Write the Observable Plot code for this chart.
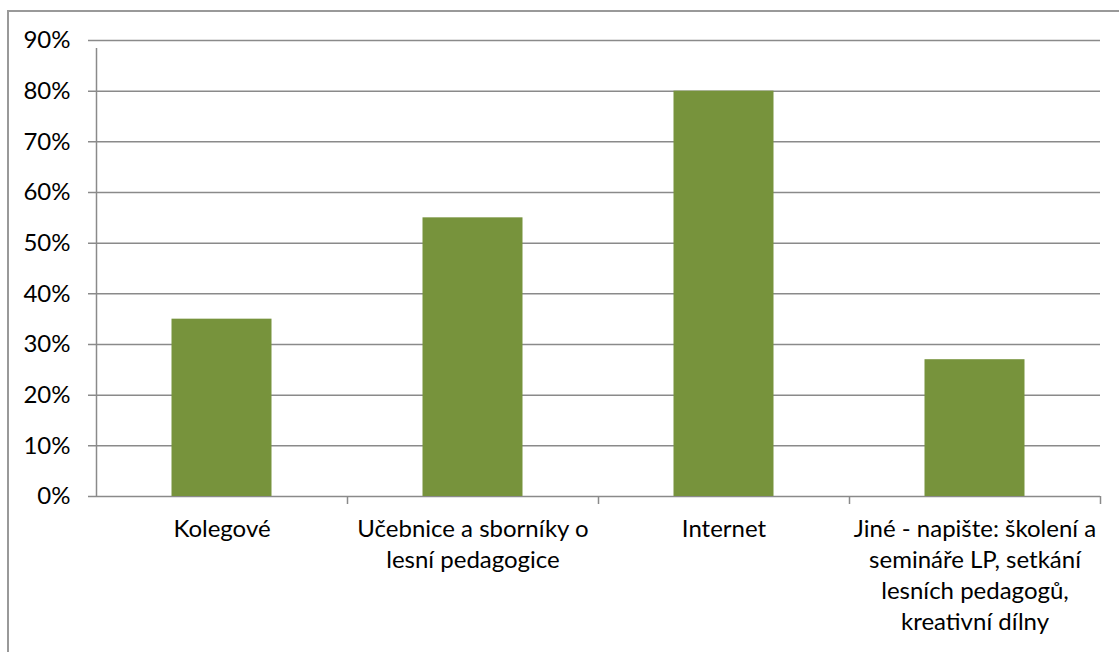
<!DOCTYPE html>
<html>
<head>
<meta charset="utf-8">
<script src="https://cdn.jsdelivr.net/npm/d3@7"></script>
<script src="https://cdn.jsdelivr.net/npm/@observablehq/plot@0.6"></script>
<style>
  html, body { margin: 0; padding: 0; background: #fff; overflow: hidden; }
  #wrap { position: relative; width: 1119px; height: 652px; overflow: hidden; background: #fff; }
  #border { position: absolute; left: 7px; top: 10px; width: 1300px; height: 1000px; border: 2px solid #999; box-sizing: border-box; pointer-events: none; }
  #chart { position: absolute; left: 0; top: 0; }
</style>
</head>
<body>
<div id="wrap"><div id="chart"></div><div id="border"></div></div>
<script>
const categories = ["Kolegové", "Učebnice a sborníky o lesní pedagogice", "Internet", "Jiné - napište: školení a semináře LP, setkání lesních pedagogů, kreativní dílny"];
const labels = ["Kolegové", "Učebnice a sborníky o\nlesní pedagogice", "Internet", "Jiné - napište: školení a\nsemináře LP, setkání\nlesních pedagogů,\nkreativní dílny"];
const values = [0.35, 0.55, 0.80, 0.27];
const yTicks = [0, 0.1, 0.2, 0.3, 0.4, 0.5, 0.6, 0.7, 0.8, 0.9];

const data = categories.map((c, i) => ({category: c, label: labels[i], value: values[i]}));

const W = 1119, H = 652, ML = 96, MR = 19, MT = 40, MB = 156;
const bw = (W - ML - MR) / categories.length;
const lineColor = "#8a8a8a";

const chart = Plot.plot({
  width: W,
  height: H,
  marginLeft: ML,
  marginRight: MR,
  marginTop: MT,
  marginBottom: MB,
  style: {fontFamily: "Lato, 'Open Sans', sans-serif", fontSize: "24px", color: "#000", background: "transparent"},
  x: {domain: categories, padding: 0, axis: null},
  y: {domain: [0, 0.9], axis: null},
  marks: [
    Plot.ruleY(yTicks, {stroke: lineColor, strokeWidth: 1.5, insetLeft: -8}),
    Plot.barY(data, {x: "category", y: "value", fill: "#77933C", insetLeft: (bw - 100) / 2, insetRight: (bw - 100) / 2}),
    Plot.ruleX([categories[0]], {x: d => d, y1: 0, y2: 0.9, dx: -bw / 2, stroke: lineColor, strokeWidth: 1.5, insetBottom: -8}),
    Plot.ruleX(categories, {x: d => d, y1: 0, y2: 0, dx: bw / 2, stroke: lineColor, strokeWidth: 1.5, insetBottom: -8}),
    Plot.axisY({ticks: yTicks, label: null, tickFormat: d => Math.round(d * 100) + "%", tickSize: 0, tickPadding: 26, fontSize: 24, fill: "#000"}),
    Plot.text(data, {x: "category", y: () => 0, text: "label", lineAnchor: "top", lineHeight: 1.3, dy: 18, fontSize: 24, fill: "#000"})
  ]
});
document.getElementById("chart").appendChild(chart);
</script>
</body>
</html>
